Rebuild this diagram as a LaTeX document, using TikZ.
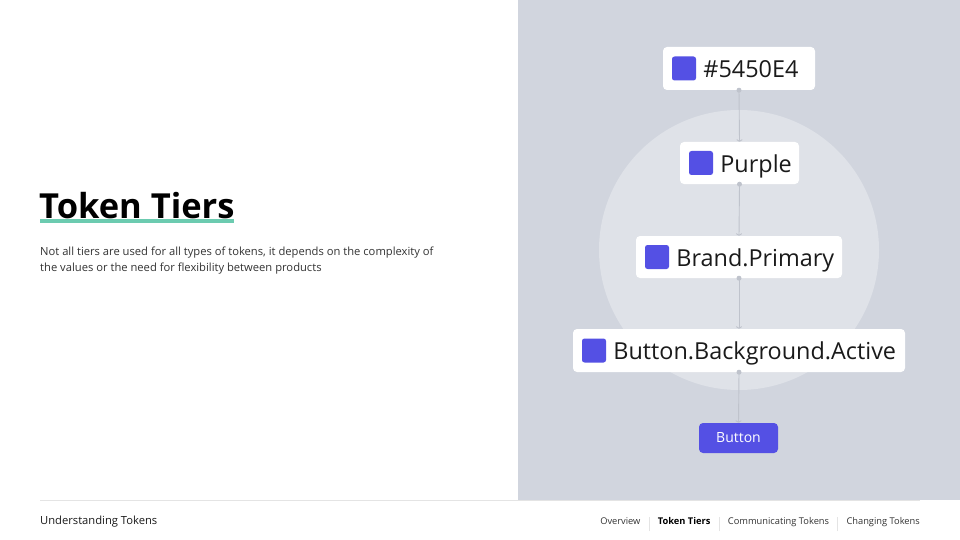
\documentclass[tikz,border=0pt]{standalone}
\usepackage{fontspec}
\setmainfont{Open Sans}
\usetikzlibrary{arrows.meta}
\definecolor{panel}{HTML}{D1D5DE}
\definecolor{disc}{HTML}{DFE2E8}
\definecolor{brand}{HTML}{5450E4}
\definecolor{conn}{HTML}{BFC3CC}
\definecolor{accent}{HTML}{6CCBB0}
\definecolor{ink}{HTML}{1A1A1A}
\definecolor{body}{HTML}{333333}
\definecolor{rule}{HTML}{E4E4E4}
\tikzset{
  tbox/.style={draw=none, fill=white, rounded corners=4pt, inner sep=0pt},
  sq/.style={fill=brand, rounded corners=2.5pt, minimum size=24pt, inner sep=0pt},
  ttext/.style={inner sep=0pt, text=ink, font=\fontsize{23.4}{28}\selectfont},
  conn/.style={draw=conn, line width=0.9pt, -{To[length=2.5pt,width=6pt]}},
  dot/.style={circle, fill=conn, minimum size=5pt, inner sep=0pt},
  nav/.style={inner sep=0pt, text=body, font=\fontsize{9.3}{11}\selectfont},
}
\begin{document}
\begin{tikzpicture}[x=1pt,y=-1pt]
\useasboundingbox (0,0) rectangle (960,540);
\fill[white] (0,0) rectangle (960,540);
\fill[panel] (518,0) rectangle (960,500);
\fill[disc] (739,250) circle (140);
\draw[rule, line width=0.8pt] (40,500) -- (920,500);

% title
\node[inner sep=0pt, anchor=base west, text=black, font=\fontsize{34.5}{40}\selectfont\bfseries] (title) at (39,218) {Token Tiers};
\fill[accent] (40,219) rectangle (234,223);
\node[inner sep=0pt, anchor=base west, text=body, align=left, font=\fontsize{11.2}{15.5}\selectfont] (desc) at (40,271) {Not all tiers are used for all types of tokens, it depends on the complexity of\\the values or the need for flexibility between products};

% boxes
\node[tbox, minimum width=152pt, minimum height=43pt] (b1) at (739,68.5) {};
\node[sq, anchor=west] (s1) at ([xshift=9pt]b1.west) {};
\node[ttext, anchor=base west] (t1) at ([xshift=7pt,yshift=-9pt]s1.east) {\#5450E4};

\node[tbox, minimum width=119pt, minimum height=42pt] (b2) at (739.5,163) {};
\node[sq, anchor=west] (s2) at ([xshift=9pt]b2.west) {};
\node[ttext, anchor=base west] (t2) at ([xshift=7pt,yshift=-9pt]s2.east) {Purple};

\node[tbox, minimum width=206pt, minimum height=42pt] (b3) at (739,257) {};
\node[sq, anchor=west] (s3) at ([xshift=9pt]b3.west) {};
\node[ttext, anchor=base west] (t3) at ([xshift=7pt,yshift=-9pt]s3.east) {Brand.Primary};

\node[tbox, minimum width=332pt, minimum height=43pt] (b4) at (739,350.5) {};
\node[sq, anchor=west] (s4) at ([xshift=9pt]b4.west) {};
\node[ttext, anchor=base west] (t4) at ([xshift=7pt,yshift=-9pt]s4.east) {Button.Background.Active};

\node[fill=brand, rounded corners=4pt, minimum width=79pt, minimum height=30pt, inner sep=0pt, text=white, font=\fontsize{14}{16}\selectfont] (btn) at (738.5,438) {Button};

% connectors
\foreach \a/\b in {b1/b2, b2/b3, b3/b4, b4/btn}{
  \draw[conn] (\a.south) -- (\b.north);
  \node[dot] at (\a.south) {};
}

% footer
\node[inner sep=0pt, anchor=base west, text=ink, font=\fontsize{11.2}{14}\selectfont] (foot) at (40,524) {Understanding Tokens};
\node[nav, anchor=base east] (n4) at (920,524) {Changing Tokens};
\node[nav, anchor=base east] (n3) at ([xshift=-17pt]n4.base west) {Communicating Tokens};
\node[nav, anchor=base east, text=black, font=\fontsize{9.3}{11}\selectfont\bfseries] (n2) at ([xshift=-17pt]n3.base west) {Token Tiers};
\node[nav, anchor=base east] (n1) at ([xshift=-17pt]n2.base west) {Overview};
\foreach \a in {n2,n3,n4}{
  \draw[rule, line width=0.8pt] ([xshift=-8.5pt,yshift=-7pt]\a.base west) -- ([xshift=-8.5pt,yshift=7pt]\a.base west);
}
\end{tikzpicture}
\end{document}
